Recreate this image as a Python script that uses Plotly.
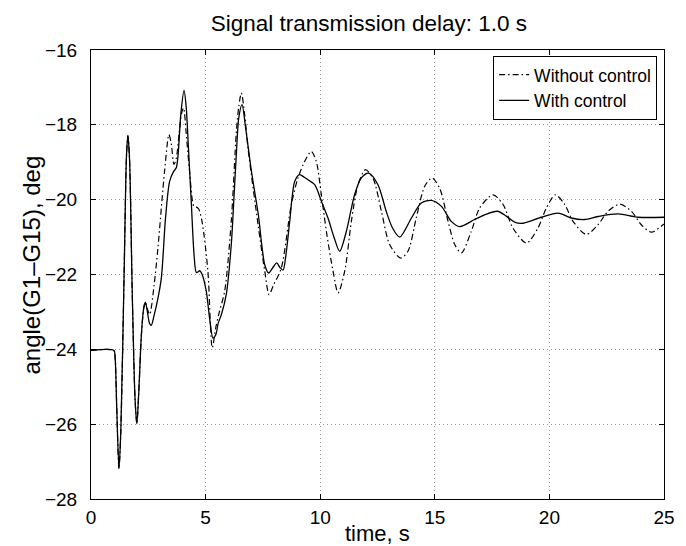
import plotly.graph_objects as go

# ---- data ----
t_with = [0, 1.0, 1.05, 1.12, 1.22, 1.3, 1.45, 1.55, 1.61, 1.68, 1.8, 1.92, 2.0, 2.08, 2.2, 2.3, 2.37,
          2.45, 2.55, 2.63, 2.75, 2.9, 3.07, 3.25, 3.43, 3.6, 3.72, 3.8, 3.92, 4.06, 4.15, 4.25, 4.38,
          4.5, 4.6, 4.75, 4.85, 5.03, 5.18, 5.32, 5.45, 5.55, 5.69, 5.9, 6.12, 6.25, 6.34, 6.45, 6.59,
          6.75, 7.0, 7.3, 7.58, 7.75, 7.95, 8.1, 8.25, 8.38, 8.5, 8.67, 8.89, 9.1, 9.3, 9.47, 9.76,
          10.05, 10.34, 10.6, 10.85, 11.14, 11.5, 11.79, 12.11, 12.52, 12.88, 13.15, 13.47, 13.98,
          14.41, 14.85, 15.29, 15.72, 16.09, 16.74, 17.2, 17.73, 18.12, 18.48, 18.85, 19.65, 20.38,
          20.96, 21.54, 22.12, 23.0, 23.87, 25.0]
v_with = [-24.03, -24.03, -24.2, -25.5, -27.19, -26.2, -21.8, -18.8, -18.29, -18.9, -22.5, -25.3, -25.99,
          -25.2, -23.6, -22.9, -22.74, -22.95, -23.3, -23.36, -23.1, -22.7, -22.09, -20.5, -19.51,
          -19.25, -19.15, -18.8, -17.7, -17.08, -17.5, -18.6, -20.13, -21.5, -21.95, -21.9, -22.0,
          -22.45, -23.2, -23.70, -23.6, -23.3, -23.07, -22.54, -21.2, -19.8, -18.8, -17.8, -17.46,
          -18.1, -19.24, -20.4, -21.74, -21.96, -21.8, -21.69, -21.82, -21.88, -21.5, -20.58, -19.51,
          -19.33, -19.4, -19.47, -19.6, -20.04, -20.49, -21.0, -21.38, -20.85, -19.87, -19.42, -19.29,
          -19.6, -20.31, -20.75, -21.0, -20.49, -20.09, -20.02, -20.18, -20.58, -20.72, -20.53, -20.4,
          -20.31, -20.44, -20.6, -20.63, -20.47, -20.36, -20.49, -20.53, -20.45, -20.38, -20.47, -20.47]

t_without = [0, 1.0, 1.05, 1.12, 1.22, 1.3, 1.45, 1.55, 1.61, 1.68, 1.8, 1.92, 2.0, 2.08, 2.2, 2.3, 2.37,
             2.45, 2.56, 2.75, 2.92, 3.21, 3.40, 3.5, 3.62, 3.72, 3.85, 3.95, 4.04, 4.15, 4.3, 4.49, 4.6,
             4.7, 4.85, 5.1, 5.29, 5.45, 5.6, 5.83, 6.12, 6.34, 6.45, 6.56, 6.7, 6.85, 7.29, 7.58, 7.77,
             7.95, 8.30, 8.74, 9.03, 9.32, 9.61, 9.83, 10.05, 10.27, 10.56, 10.78, 11.07, 11.36, 11.65,
             11.97, 12.3, 12.67, 13.03, 13.51, 13.83, 14.19, 14.56, 14.88, 15.21, 15.58, 15.87, 16.16,
             16.59, 16.96, 17.54, 17.98, 18.41, 19.0, 19.5, 19.87, 20.26, 20.67, 21.03, 21.61, 22.12,
             22.56, 23.07, 23.58, 24.01, 24.45, 24.96, 25.0]
v_without = [-24.03, -24.03, -24.2, -25.5, -27.19, -26.2, -21.8, -18.8, -18.29, -18.9, -22.5, -25.3, -25.99,
             -25.2, -23.6, -22.9, -22.74, -22.9, -23.07, -22.3, -21.29, -19.24, -18.26, -18.5, -19.06,
             -18.9, -18.2, -17.7, -17.55, -18.2, -19.24, -20.18, -20.2, -20.25, -20.6, -21.91, -23.96,
             -23.4, -23.0, -22.45, -20.58, -18.2, -17.5, -17.15, -17.7, -18.62, -20.67, -21.91, -22.54,
             -22.3, -21.83, -20.13, -19.42, -18.98, -18.71, -18.98, -19.87, -20.85, -21.91, -22.49,
             -21.91, -20.58, -19.6, -19.2, -19.42, -20.31, -21.2, -21.56, -21.38, -20.49, -19.64, -19.42,
             -19.69, -20.58, -21.2, -21.42, -20.85, -20.22, -19.87, -20.13, -20.76, -21.16, -20.76,
             -20.22, -19.87, -20.13, -20.58, -20.93, -20.67, -20.31, -20.12, -20.31, -20.67, -20.87,
             -20.67, -20.65]

x_ticks = [0, 5, 10, 15, 20, 25]
y_ticks = [-28, -26, -24, -22, -20, -18, -16]

title_text = "Signal transmission delay: 1.0 s"
x_label = "time, s"
y_label = "angle(G1\u2013G15), deg"
names = ["Without control", "With control"]

FONT = "Liberation Sans, Arial, Helvetica, sans-serif"

fig = go.Figure()
fig.add_trace(go.Scatter(x=t_without, y=v_without, mode="lines", name=names[0],
                         line=dict(color="black", width=1.2, dash="6px,3px,1.5px,3px",
                                   shape="spline", smoothing=0.8)))
fig.add_trace(go.Scatter(x=t_with, y=v_with, mode="lines", name=names[1],
                         line=dict(color="black", width=1.3, shape="spline", smoothing=0.8)))

axis_common = dict(showline=True, linecolor="black", linewidth=1, mirror="ticks",
                   ticks="inside", ticklen=5, tickcolor="black",
                   showgrid=True, gridcolor="#9a9a9a", griddash="1px,3px", gridwidth=1,
                   zeroline=False, tickfont=dict(family=FONT, size=19, color="black"))

fig.update_xaxes(range=[0, 25], tickvals=x_ticks, ticklabelstandoff=1, **axis_common)
fig.update_yaxes(range=[-28, -16], tickvals=y_ticks, ticklabelstandoff=9, **axis_common)

fig.update_layout(
    width=686, height=546,
    margin=dict(l=83, r=30, t=42, b=55, autoexpand=False),
    paper_bgcolor="white", plot_bgcolor="white",
    title=dict(text=title_text, x=0.485, xref="paper", y=1 - 15 / 546, yref="container",
               xanchor="center", yanchor="middle",
               font=dict(family=FONT, size=22.5, color="black")),
    annotations=[
        dict(text=x_label, xref="paper", yref="paper", x=0.5, y=0, yshift=-34,
             xanchor="center", yanchor="middle", showarrow=False,
             font=dict(family=FONT, size=22, color="black")),
        dict(text=y_label, xref="paper", yref="paper", x=0, y=0.52, xshift=-59,
             xanchor="center", yanchor="middle", textangle=-90, showarrow=False,
             font=dict(family=FONT, size=24, color="black")),
    ],
    showlegend=True,
    legend=dict(x=0.988, y=0.987, xanchor="right", yanchor="top",
                bgcolor="white", bordercolor="black", borderwidth=1,
                font=dict(family=FONT, size=17.5, color="black"),
                itemwidth=30, tracegroupgap=0),
)

fig.write_html("out.html")
